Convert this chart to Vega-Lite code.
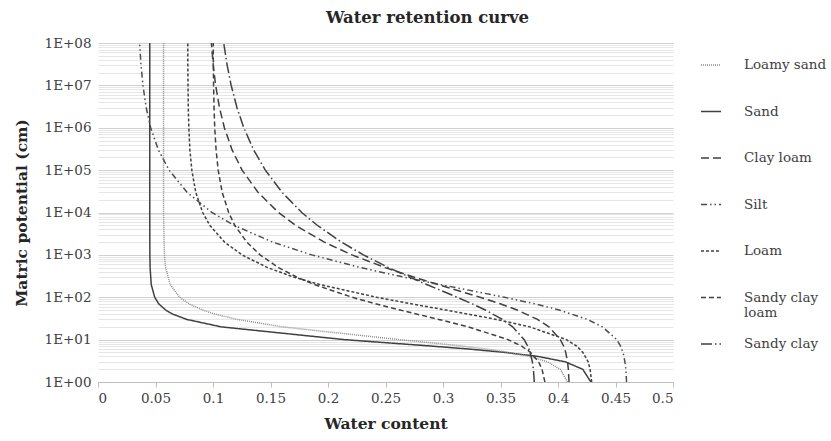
{
  "$schema": "https://vega.github.io/schema/vega-lite/v6.json",
  "autosize": {"type": "none"},
  "width": 575,
  "height": 339,
  "padding": {"left": 98, "top": 43, "right": 158, "bottom": 59},
  "background": "white",
  "title": {"text": "Water retention curve", "font": "DejaVu Serif", "fontSize": 16.5, "fontWeight": "bold", "color": "#262626", "offset": 10, "dx": 42},
  "config": {
    "view": {"stroke": null},
    "font": "DejaVu Serif"
  },
  "datasets": {
    "curves": [
      {"soil": "Sand", "h": 1, "theta": 0.4286}, {"soil": "Sand", "h": 2, "theta": 0.4215}, {"soil": "Sand", "h": 3, "theta": 0.4062}, {"soil": "Sand", "h": 4, "theta": 0.3828}, {"soil": "Sand", "h": 5, "theta": 0.3536}, {"soil": "Sand", "h": 6, "theta": 0.3222}, {"soil": "Sand", "h": 7, "theta": 0.2912}, {"soil": "Sand", "h": 8, "theta": 0.2624}, {"soil": "Sand", "h": 9, "theta": 0.2368}, {"soil": "Sand", "h": 10, "theta": 0.2143}, {"soil": "Sand", "h": 20, "theta": 0.1072}, {"soil": "Sand", "h": 30, "theta": 0.0772}, {"soil": "Sand", "h": 40, "theta": 0.065}, {"soil": "Sand", "h": 50, "theta": 0.0588}, {"soil": "Sand", "h": 70, "theta": 0.0528}, {"soil": "Sand", "h": 100, "theta": 0.0493}, {"soil": "Sand", "h": 200, "theta": 0.0463}, {"soil": "Sand", "h": 500, "theta": 0.0453}, {"soil": "Sand", "h": 1000, "theta": 0.0451}, {"soil": "Sand", "h": 10000, "theta": 0.045}, {"soil": "Sand", "h": 100000, "theta": 0.045}, {"soil": "Sand", "h": 1000000, "theta": 0.045}, {"soil": "Sand", "h": 10000000, "theta": 0.045}, {"soil": "Sand", "h": 100000000, "theta": 0.045},

      {"soil": "Loamy sand", "h": 1, "theta": 0.4083}, {"soil": "Loamy sand", "h": 2, "theta": 0.402}, {"soil": "Loamy sand", "h": 3, "theta": 0.3908}, {"soil": "Loamy sand", "h": 4, "theta": 0.3753}, {"soil": "Loamy sand", "h": 5, "theta": 0.3571}, {"soil": "Loamy sand", "h": 6, "theta": 0.3372}, {"soil": "Loamy sand", "h": 7, "theta": 0.317}, {"soil": "Loamy sand", "h": 8, "theta": 0.2975}, {"soil": "Loamy sand", "h": 9, "theta": 0.2791}, {"soil": "Loamy sand", "h": 10, "theta": 0.262}, {"soil": "Loamy sand", "h": 20, "theta": 0.1603}, {"soil": "Loamy sand", "h": 30, "theta": 0.121}, {"soil": "Loamy sand", "h": 40, "theta": 0.1018}, {"soil": "Loamy sand", "h": 50, "theta": 0.0909}, {"soil": "Loamy sand", "h": 70, "theta": 0.0791}, {"soil": "Loamy sand", "h": 100, "theta": 0.071}, {"soil": "Loamy sand", "h": 200, "theta": 0.0628}, {"soil": "Loamy sand", "h": 500, "theta": 0.0588}, {"soil": "Loamy sand", "h": 1000, "theta": 0.0577}, {"soil": "Loamy sand", "h": 10000, "theta": 0.057}, {"soil": "Loamy sand", "h": 100000, "theta": 0.057}, {"soil": "Loamy sand", "h": 1000000, "theta": 0.057}, {"soil": "Loamy sand", "h": 10000000, "theta": 0.057}, {"soil": "Loamy sand", "h": 100000000, "theta": 0.057},

      {"soil": "Clay loam", "h": 1, "theta": 0.4096}, {"soil": "Clay loam", "h": 2, "theta": 0.409}, {"soil": "Clay loam", "h": 3, "theta": 0.4083}, {"soil": "Clay loam", "h": 5, "theta": 0.4067}, {"soil": "Clay loam", "h": 7, "theta": 0.4049}, {"soil": "Clay loam", "h": 10, "theta": 0.4021}, {"soil": "Clay loam", "h": 20, "theta": 0.3921}, {"soil": "Clay loam", "h": 30, "theta": 0.3822}, {"soil": "Clay loam", "h": 50, "theta": 0.3645}, {"soil": "Clay loam", "h": 70, "theta": 0.3498}, {"soil": "Clay loam", "h": 100, "theta": 0.3322}, {"soil": "Clay loam", "h": 200, "theta": 0.2954}, {"soil": "Clay loam", "h": 300, "theta": 0.2745}, {"soil": "Clay loam", "h": 500, "theta": 0.2498}, {"soil": "Clay loam", "h": 1000, "theta": 0.2208}, {"soil": "Clay loam", "h": 2000, "theta": 0.1968}, {"soil": "Clay loam", "h": 5000, "theta": 0.1717}, {"soil": "Clay loam", "h": 10000, "theta": 0.1569}, {"soil": "Clay loam", "h": 30000, "theta": 0.1391}, {"soil": "Clay loam", "h": 100000, "theta": 0.1253}, {"soil": "Clay loam", "h": 300000, "theta": 0.1166}, {"soil": "Clay loam", "h": 1000000, "theta": 0.1099}, {"soil": "Clay loam", "h": 3000000, "theta": 0.1056}, {"soil": "Clay loam", "h": 10000000, "theta": 0.1023}, {"soil": "Clay loam", "h": 30000000, "theta": 0.1002}, {"soil": "Clay loam", "h": 100000000, "theta": 0.0986},

      {"soil": "Silt", "h": 1, "theta": 0.4596}, {"soil": "Silt", "h": 2, "theta": 0.459}, {"soil": "Silt", "h": 3, "theta": 0.4582}, {"soil": "Silt", "h": 5, "theta": 0.4565}, {"soil": "Silt", "h": 7, "theta": 0.4544}, {"soil": "Silt", "h": 10, "theta": 0.4511}, {"soil": "Silt", "h": 20, "theta": 0.4386}, {"soil": "Silt", "h": 30, "theta": 0.4256}, {"soil": "Silt", "h": 50, "theta": 0.401}, {"soil": "Silt", "h": 70, "theta": 0.3798}, {"soil": "Silt", "h": 100, "theta": 0.3534}, {"soil": "Silt", "h": 200, "theta": 0.2975}, {"soil": "Silt", "h": 300, "theta": 0.2655}, {"soil": "Silt", "h": 500, "theta": 0.2284}, {"soil": "Silt", "h": 1000, "theta": 0.1858}, {"soil": "Silt", "h": 2000, "theta": 0.1519}, {"soil": "Silt", "h": 5000, "theta": 0.1182}, {"soil": "Silt", "h": 10000, "theta": 0.0991}, {"soil": "Silt", "h": 30000, "theta": 0.0774}, {"soil": "Silt", "h": 100000, "theta": 0.0618}, {"soil": "Silt", "h": 300000, "theta": 0.0525}, {"soil": "Silt", "h": 1000000, "theta": 0.0458}, {"soil": "Silt", "h": 3000000, "theta": 0.0419}, {"soil": "Silt", "h": 10000000, "theta": 0.0391}, {"soil": "Silt", "h": 30000000, "theta": 0.0374}, {"soil": "Silt", "h": 100000000, "theta": 0.0362},

      {"soil": "Loam", "h": 1, "theta": 0.4293}, {"soil": "Loam", "h": 2, "theta": 0.4279}, {"soil": "Loam", "h": 3, "theta": 0.4262}, {"soil": "Loam", "h": 5, "theta": 0.4217}, {"soil": "Loam", "h": 7, "theta": 0.4163}, {"soil": "Loam", "h": 10, "theta": 0.4074}, {"soil": "Loam", "h": 20, "theta": 0.3754}, {"soil": "Loam", "h": 30, "theta": 0.3465}, {"soil": "Loam", "h": 50, "theta": 0.3024}, {"soil": "Loam", "h": 70, "theta": 0.2725}, {"soil": "Loam", "h": 100, "theta": 0.2422}, {"soil": "Loam", "h": 200, "theta": 0.1927}, {"soil": "Loam", "h": 300, "theta": 0.1701}, {"soil": "Loam", "h": 500, "theta": 0.1475}, {"soil": "Loam", "h": 1000, "theta": 0.1252}, {"soil": "Loam", "h": 2000, "theta": 0.1101}, {"soil": "Loam", "h": 5000, "theta": 0.0972}, {"soil": "Loam", "h": 10000, "theta": 0.091}, {"soil": "Loam", "h": 30000, "theta": 0.085}, {"soil": "Loam", "h": 100000, "theta": 0.0816}, {"soil": "Loam", "h": 300000, "theta": 0.0799}, {"soil": "Loam", "h": 1000000, "theta": 0.079}, {"soil": "Loam", "h": 3000000, "theta": 0.0785}, {"soil": "Loam", "h": 10000000, "theta": 0.0783}, {"soil": "Loam", "h": 30000000, "theta": 0.0781}, {"soil": "Loam", "h": 100000000, "theta": 0.0781},

      {"soil": "Sandy clay loam", "h": 1, "theta": 0.3886}, {"soil": "Sandy clay loam", "h": 2, "theta": 0.3861}, {"soil": "Sandy clay loam", "h": 3, "theta": 0.3831}, {"soil": "Sandy clay loam", "h": 5, "theta": 0.3761}, {"soil": "Sandy clay loam", "h": 7, "theta": 0.3684}, {"soil": "Sandy clay loam", "h": 10, "theta": 0.3566}, {"soil": "Sandy clay loam", "h": 20, "theta": 0.322}, {"soil": "Sandy clay loam", "h": 30, "theta": 0.2963}, {"soil": "Sandy clay loam", "h": 50, "theta": 0.2626}, {"soil": "Sandy clay loam", "h": 70, "theta": 0.2414}, {"soil": "Sandy clay loam", "h": 100, "theta": 0.2209}, {"soil": "Sandy clay loam", "h": 200, "theta": 0.188}, {"soil": "Sandy clay loam", "h": 300, "theta": 0.1727}, {"soil": "Sandy clay loam", "h": 500, "theta": 0.157}, {"soil": "Sandy clay loam", "h": 1000, "theta": 0.1409}, {"soil": "Sandy clay loam", "h": 2000, "theta": 0.1294}, {"soil": "Sandy clay loam", "h": 5000, "theta": 0.1189}, {"soil": "Sandy clay loam", "h": 10000, "theta": 0.1136}, {"soil": "Sandy clay loam", "h": 30000, "theta": 0.108}, {"soil": "Sandy clay loam", "h": 100000, "theta": 0.1045}, {"soil": "Sandy clay loam", "h": 300000, "theta": 0.1027}, {"soil": "Sandy clay loam", "h": 1000000, "theta": 0.1015}, {"soil": "Sandy clay loam", "h": 3000000, "theta": 0.1009}, {"soil": "Sandy clay loam", "h": 10000000, "theta": 0.1005}, {"soil": "Sandy clay loam", "h": 30000000, "theta": 0.1003}, {"soil": "Sandy clay loam", "h": 100000000, "theta": 0.1002},

      {"soil": "Sandy clay", "h": 1, "theta": 0.3794}, {"soil": "Sandy clay", "h": 2, "theta": 0.3786}, {"soil": "Sandy clay", "h": 3, "theta": 0.3777}, {"soil": "Sandy clay", "h": 5, "theta": 0.3757}, {"soil": "Sandy clay", "h": 7, "theta": 0.3737}, {"soil": "Sandy clay", "h": 10, "theta": 0.3706}, {"soil": "Sandy clay", "h": 20, "theta": 0.3606}, {"soil": "Sandy clay", "h": 30, "theta": 0.3516}, {"soil": "Sandy clay", "h": 50, "theta": 0.3368}, {"soil": "Sandy clay", "h": 70, "theta": 0.3254}, {"soil": "Sandy clay", "h": 100, "theta": 0.3123}, {"soil": "Sandy clay", "h": 200, "theta": 0.2858}, {"soil": "Sandy clay", "h": 300, "theta": 0.2707}, {"soil": "Sandy clay", "h": 500, "theta": 0.2527}, {"soil": "Sandy clay", "h": 1000, "theta": 0.2308}, {"soil": "Sandy clay", "h": 2000, "theta": 0.2117}, {"soil": "Sandy clay", "h": 5000, "theta": 0.1906}, {"soil": "Sandy clay", "h": 10000, "theta": 0.1772}, {"soil": "Sandy clay", "h": 30000, "theta": 0.16}, {"soil": "Sandy clay", "h": 100000, "theta": 0.1455}, {"soil": "Sandy clay", "h": 300000, "theta": 0.1353}, {"soil": "Sandy clay", "h": 1000000, "theta": 0.1268}, {"soil": "Sandy clay", "h": 3000000, "theta": 0.1208}, {"soil": "Sandy clay", "h": 10000000, "theta": 0.1158}, {"soil": "Sandy clay", "h": 30000000, "theta": 0.1123}, {"soil": "Sandy clay", "h": 100000000, "theta": 0.1093}
    ]
  },
  "data": {"name": "curves"},
  "mark": {"type": "line", "strokeWidth": 1.5, "clip": true},
  "encoding": {
    "x": {
      "field": "theta", "type": "quantitative",
      "scale": {"domain": [0, 0.5], "nice": false, "zero": false},
      "axis": {
        "values": [0, 0.05, 0.1, 0.15, 0.2, 0.25, 0.3, 0.35, 0.4, 0.45, 0.5],
        "format": "~g", "grid": false,
        "domainColor": "#bfbfbf", "tickColor": "#bfbfbf", "tickSize": 5,
        "labelFont": "DejaVu Serif", "labelFontSize": 13.5, "labelColor": "#404040", "labelPadding": 4,
        "title": "Water content", "titleFont": "DejaVu Serif", "titleFontSize": 15.5, "titleFontWeight": "bold", "titleColor": "#262626", "titlePadding": 12
      }
    },
    "y": {
      "field": "h", "type": "quantitative",
      "scale": {"type": "log", "domain": [1, 100000000], "nice": false},
      "axis": {
        "values": [1,2,3,4,5,6,7,8,9,10,20,30,40,50,60,70,80,90,100,200,300,400,500,600,700,800,900,1000,2000,3000,4000,5000,6000,7000,8000,9000,10000,20000,30000,40000,50000,60000,70000,80000,90000,100000,200000,300000,400000,500000,600000,700000,800000,900000,1000000,2000000,3000000,4000000,5000000,6000000,7000000,8000000,9000000,10000000,20000000,30000000,40000000,50000000,60000000,70000000,80000000,90000000,100000000],
        "labelExpr": "indexof([1,10,100,1000,10000,100000,1000000,10000000,100000000], datum.value) >= 0 ? '1E+0' + round(log(datum.value)/LN10) : ''",
        "labelOverlap": false,
        "grid": true,
        "gridColor": {"condition": {"test": "indexof([1,10,100,1000,10000,100000,1000000,10000000,100000000], datum.value) >= 0", "value": "#d0d0d0"}, "value": "#e6e6e6"},
        "gridWidth": 1,
        "ticks": false, "domain": false,
        "labelFont": "DejaVu Serif", "labelFontSize": 13.5, "labelColor": "#404040", "labelPadding": 7,
        "title": "Matric potential (cm)", "titleFont": "DejaVu Serif", "titleFontSize": 15.5, "titleFontWeight": "bold", "titleColor": "#262626", "titlePadding": 15
      }
    },
    "order": {"field": "h", "type": "quantitative"},
    "color": {
      "field": "soil", "type": "nominal",
      "scale": {
        "domain": ["Loamy sand", "Sand", "Clay loam", "Silt", "Loam", "Sandy clay loam", "Sandy clay"],
        "range": ["#8c8c8c", "#404040", "#404040", "#4d4d4d", "#404040", "#404040", "#404040"]
      },
      "legend": {
        "title": null,
        "orient": "none", "legendX": 602, "legendY": 11,
        "symbolType": "stroke", "symbolSize": 400, "symbolStrokeWidth": 1.5,
        "labelFont": "DejaVu Serif", "labelFontSize": 13.5, "labelColor": "#404040", "labelOffset": 22,
        "labelLimit": 200,
        "labelExpr": "datum.label == 'Sandy clay loam' ? ['Sandy clay', 'loam'] : datum.label",
        "rowPadding": 13.5,
        "gridAlign": "all"
      }
    },
    "strokeDash": {
      "field": "soil", "type": "nominal",
      "scale": {
        "domain": ["Loamy sand", "Sand", "Clay loam", "Silt", "Loam", "Sandy clay loam", "Sandy clay"],
        "range": [[1, 1], [1, 0], [8, 4], [6, 3, 1.5, 3, 1.5, 3], [3, 2], [5, 3], [11, 3, 1.5, 3]]
      },
      "legend": {
        "title": null,
        "orient": "none", "legendX": 602, "legendY": 11,
        "symbolType": "stroke", "symbolSize": 400, "symbolStrokeWidth": 1.5,
        "labelFont": "DejaVu Serif", "labelFontSize": 13.5, "labelColor": "#404040", "labelOffset": 22,
        "labelLimit": 200,
        "labelExpr": "datum.label == 'Sandy clay loam' ? ['Sandy clay', 'loam'] : datum.label",
        "rowPadding": 13.5,
        "gridAlign": "all"
      }
    }
  }
}
